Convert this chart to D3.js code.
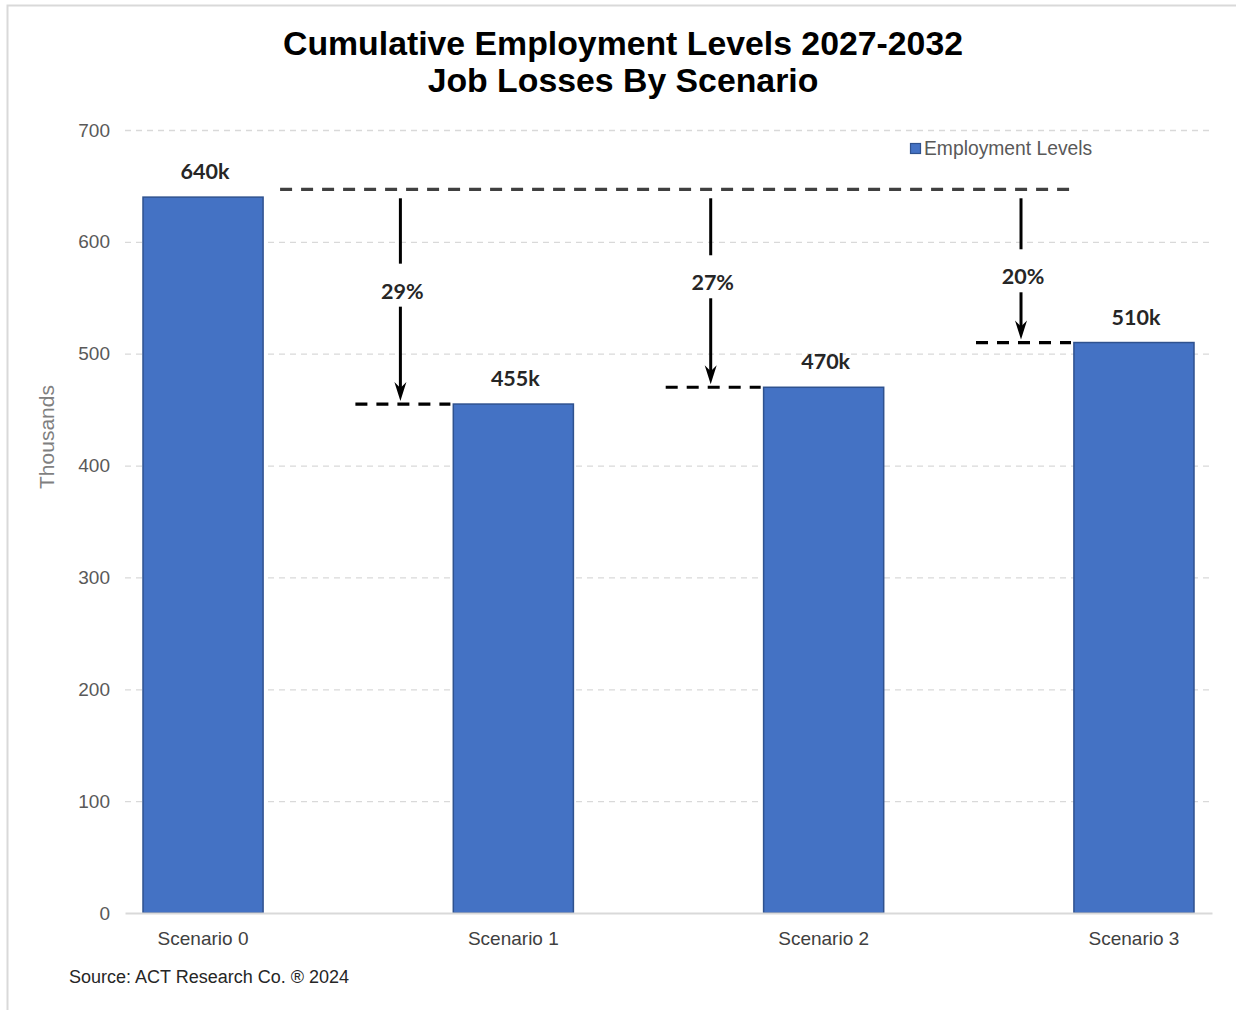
<!DOCTYPE html>
<html>
<head>
<meta charset="utf-8">
<script src="https://cdn.jsdelivr.net/npm/d3@7"></script>
<style>
  html, body { margin: 0; padding: 0; background: #fff; }
  svg { display: block; }
</style>
</head>
<body>
<div id="chart"></div>
<script>
// Scenario categories and cumulative employment (thousands)
const categories = ["Scenario 0", "Scenario 1", "Scenario 2", "Scenario 3"];
const employment = [640, 455, 470, 510];
const valueLabels = ["640k", "455k", "470k", "510k"];
const yTicks = [0, 100, 200, 300, 400, 500, 600, 700];
// Reference level the job-loss arrows are measured down from
const referenceLevel = 647;

const W = 1236, H = 1010;
const plot = { left: 125, right: 1212, top: 130, bottom: 913 };

const svg = d3.select("#chart").append("svg")
  .attr("width", W).attr("height", H);

// outer chart frame (top and left edges visible)
svg.append("rect")
  .attr("x", 7.5).attr("y", 5.5)
  .attr("width", W + 20).attr("height", H + 20)
  .attr("fill", "none").attr("stroke", "#d9d9d9").attr("stroke-width", 2);

const x = d3.scaleBand()
  .domain(categories)
  .range([plot.left, plot.right])
  .paddingInner(0.613)
  .paddingOuter(0.058);

const y = d3.scaleLinear()
  .domain([0, 700])
  .range([plot.bottom, plot.top]);

// Title
const title = svg.append("text")
  .attr("x", 623).attr("text-anchor", "middle")
  .attr("font-family", "'Liberation Sans', Arial, sans-serif")
  .attr("font-weight", "bold").attr("font-size", 33.8).attr("fill", "#000");
title.append("tspan").attr("x", 623).attr("y", 55).text("Cumulative Employment Levels 2027-2032");
title.append("tspan").attr("x", 623).attr("y", 92).text("Job Losses By Scenario");

// Y axis with dashed gridlines
const yAxis = svg.append("g")
  .attr("transform", `translate(${plot.left},0)`)
  .call(d3.axisLeft(y).tickValues(yTicks).tickSize(-(plot.right - plot.left)).tickPadding(15));
yAxis.select(".domain").remove();
yAxis.selectAll(".tick line")
  .attr("stroke", (d) => d === 0 ? "none" : "#d9d9d9")
  .attr("stroke-width", 1.3)
  .attr("stroke-dasharray", "6,5");
yAxis.selectAll(".tick text")
  .attr("font-family", "'Liberation Sans', Arial, sans-serif")
  .attr("font-size", 19).attr("fill", "#595959");

// Y axis title
svg.append("text")
  .attr("transform", "translate(54,437) rotate(-90)")
  .attr("text-anchor", "middle")
  .attr("font-family", "'Liberation Sans', Arial, sans-serif")
  .attr("font-size", 21).attr("fill", "#7f7f7f")
  .text("Thousands");

// Bars
const data = categories.map((c, i) => ({ cat: c, value: employment[i], label: valueLabels[i] }));

svg.append("g").selectAll("rect")
  .data(data).join("rect")
  .attr("x", d => x(d.cat))
  .attr("y", d => y(d.value))
  .attr("width", x.bandwidth())
  .attr("height", d => y(0) - y(d.value))
  .attr("fill", "#4472C4")
  .attr("stroke", "#2F528F").attr("stroke-width", 1.5);

// X axis baseline and category labels
const xAxis = svg.append("g")
  .attr("transform", `translate(0,${plot.bottom})`)
  .call(d3.axisBottom(x).tickSize(0).tickPadding(19));
xAxis.select(".domain").attr("stroke", "#d9d9d9").attr("stroke-width", 2);
xAxis.selectAll(".tick text")
  .attr("font-family", "'Liberation Sans', Arial, sans-serif")
  .attr("font-size", 19).attr("fill", "#404040");

// Value labels
svg.append("g").selectAll("text")
  .data(data).join("text")
  .attr("x", d => x(d.cat) + x.bandwidth() / 2 + 2)
  .attr("y", d => y(d.value) - 18)
  .attr("text-anchor", "middle")
  .attr("font-family", "Lato, 'Open Sans', sans-serif")
  .attr("font-weight", "bold").attr("font-size", 21.5).attr("fill", "#262626")
  .text(d => d.label);

// Legend
svg.append("rect")
  .attr("x", 910.5).attr("y", 143.5).attr("width", 10).attr("height", 10)
  .attr("fill", "#4472C4").attr("stroke", "#2F528F").attr("stroke-width", 1.2);
svg.append("text")
  .attr("x", 924).attr("y", 155)
  .attr("font-family", "'Liberation Sans', Arial, sans-serif")
  .attr("font-size", 19.3).attr("fill", "#595959")
  .text("Employment Levels");

// Reference dashed line across the scenarios
const ann = svg.append("g");
const step = x.step();
const bw = x.bandwidth();
ann.append("line")
  .attr("x1", x(categories[0]) + bw + 17)
  .attr("x2", x(categories[3]) - 4)
  .attr("y1", y(referenceLevel)).attr("y2", y(referenceLevel))
  .attr("stroke", "#404040").attr("stroke-width", 3.2)
  .attr("stroke-dasharray", "12,9");

// Drop arrows with percentage loss relative to Scenario 0
data.slice(1).forEach(d => {
  const ax = x(d.cat) + bw / 2 - 0.364 * step;
  const top = y(referenceLevel);
  const lvl = y(d.value);
  const tip = lvl - 3;
  const mid = Math.max((top + lvl) / 2 - 5, top + 88);
  const pct = Math.round((employment[0] - d.value) / employment[0] * 100) + "%";

  // level dashed line
  ann.append("line")
    .attr("x1", ax - 45).attr("x2", Math.min(x(d.cat), ax + 50))
    .attr("y1", lvl).attr("y2", lvl)
    .attr("stroke", "#000").attr("stroke-width", 3.2)
    .attr("stroke-dasharray", "12,9");

  ann.append("line")
    .attr("x1", ax).attr("x2", ax)
    .attr("y1", top + 9).attr("y2", mid - 28)
    .attr("stroke", "#000").attr("stroke-width", 3);
  ann.append("line")
    .attr("x1", ax).attr("x2", ax)
    .attr("y1", mid + 15).attr("y2", tip - 8)
    .attr("stroke", "#000").attr("stroke-width", 3);
  ann.append("path")
    .attr("d", `M${ax},${tip} L${ax - 6},${tip - 19} L${ax},${tip - 13} L${ax + 6},${tip - 19} Z`)
    .attr("fill", "#000");

  ann.append("text")
    .attr("x", ax + 2).attr("y", mid + 7)
    .attr("text-anchor", "middle")
    .attr("font-family", "Lato, 'Open Sans', sans-serif")
    .attr("font-weight", "bold").attr("font-size", 21.5).attr("fill", "#262626")
    .text(pct);
});

// Source note
svg.append("text")
  .attr("x", 69).attr("y", 983)
  .attr("font-family", "'Liberation Sans', Arial, sans-serif")
  .attr("font-size", 18).attr("fill", "#262626")
  .text("Source: ACT Research Co. \u00AE 2024");
</script>
</body>
</html>
